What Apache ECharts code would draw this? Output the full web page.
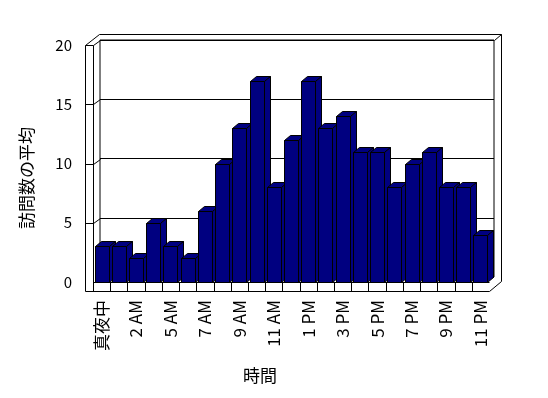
<!DOCTYPE html>
<html>
<head>
<meta charset="utf-8">
<script src="https://cdn.jsdelivr.net/npm/echarts@6/dist/echarts.min.js"></script>
<style>
html, body { margin: 0; padding: 0; background: #fff; }
#chart { width: 548px; height: 398px; }
</style>
</head>
<body>
<div id="chart"></div>
<script>
// hour of day (4 AM has no entry in the source)
var hours = ['真夜中', '1 AM', '2 AM', '3 AM', '5 AM', '6 AM', '7 AM', '8 AM', '9 AM', '10 AM', '11 AM', '正午',
    '1 PM', '2 PM', '3 PM', '4 PM', '5 PM', '6 PM', '7 PM', '8 PM', '9 PM', '10 PM', '11 PM'];
var visits = [3, 3, 2, 5, 3, 2, 6, 10, 13, 17, 8, 12, 17, 13, 14, 11, 11, 8, 10, 11, 8, 8, 4];
var gridTicks = [5, 10, 15, 20];

var font = 'Noto Sans CJK JP';
var navy = '#000080';
var line = {fill: 'none', stroke: '#000', lineWidth: 1};

function px(v) {
    return Math.round(v) + 0.5;
}

// walls, floor slab and the ticks on the side wall
function renderFrame(params, api) {
    var c = params.coordSys;
    var x0 = px(c.x), x1 = px(c.x + c.width);
    var yT = px(c.y), yB = px(c.y + c.height);
    var T = 8, F = 9, DX = 7, DY = -5;
    var cw = api.size([1, 0])[0];
    var kids = [];
    kids.push({type: 'polygon', shape: {points: [
        [x0 - T, yT], [x0 - T + 14, yT - 11], [x1 + 12, yT - 11], [x1 + 12, yB - 1], [x1, yB + F], [x0 - T, yB + F]
    ]}, style: line});
    kids.push({type: 'polyline', shape: {points: [[x0 - T, yT], [x0, yT], [x0 + DX, yT + DY]]}, style: line});
    kids.push({type: 'line', shape: {x1: x0, y1: yT, x2: x0, y2: yB + F}, style: line});
    kids.push({type: 'line', shape: {x1: x1 + 5, y1: yT - 5, x2: x1 + 12, y2: yT - 11}, style: line});
    kids.push({type: 'line', shape: {x1: x0, y1: yB, x2: x1, y2: yB}, style: line});
    for (var k = 1; k < hours.length; ++k) {
        var xx = px(c.x + k * cw);
        kids.push({type: 'line', shape: {x1: xx, y1: yB, x2: xx, y2: yB + F}, style: line});
    }
    for (var i = 0; i < gridTicks.length - 1; ++i) {
        var y = px(api.coord([0, gridTicks[i]])[1]);
        kids.push({type: 'polyline', shape: {points: [[x0 - T, y], [x0, y], [x0 + DX, y + DY]]}, style: line});
    }
    return {type: 'group', children: kids};
}

function renderBar(params, api) {
    var top = api.coord([api.value(0), api.value(1)]);
    var base = api.coord([api.value(0), 0]);
    var w = 14, dx = 6, dy = -5;
    var xl = px(top[0] - w / 2), xr = xl + w;
    var yt = px(top[1]), yb = px(base[1]);
    var st = {fill: navy, stroke: '#000', lineWidth: 1};
    return {type: 'group', children: [
        {type: 'polygon', shape: {points: [[xl, yt], [xr, yt], [xr, yb], [xl, yb]]}, style: st},
        {type: 'polygon', shape: {points: [[xl, yt], [xl + dx, yt + dy], [xr + dx, yt + dy], [xr, yt]]}, style: st},
        {type: 'polygon', shape: {points: [[xr, yt], [xr + dx, yt + dy], [xr + dx, yb + dy], [xr, yb]]}, style: st}
    ]};
}

var chart = echarts.init(document.getElementById('chart'));
chart.setOption({
    animation: false,
    backgroundColor: '#fff',
    grid: [
        {left: 93, right: 59, top: 45, bottom: 116},
        {left: 100, right: 54, top: 40, bottom: 121, show: true, borderColor: '#000', borderWidth: 1, backgroundColor: 'transparent'}
    ],
    xAxis: [{
        gridIndex: 0,
        type: 'category',
        data: hours,
        axisLine: {show: false},
        axisTick: {show: false},
        axisLabel: {interval: 1, rotate: 90, margin: 18, color: '#000', fontSize: 17, fontFamily: font},
        name: '時間',
        nameLocation: 'middle',
        nameGap: 85,
        nameTextStyle: {color: '#000', fontSize: 17, fontFamily: font, padding: [0, 62, 0, 0]}
    }, {
        gridIndex: 1,
        type: 'category',
        data: hours,
        show: false
    }],
    yAxis: [{
        gridIndex: 0,
        type: 'value',
        min: 0,
        max: 20,
        interval: 5,
        axisLine: {show: false},
        axisTick: {show: false},
        splitLine: {show: false},
        axisLabel: {margin: 21, color: '#000', fontSize: 15, fontFamily: font},
        name: '訪問数の平均',
        nameLocation: 'middle',
        nameRotate: 90,
        nameGap: 58,
        nameTextStyle: {color: '#000', fontSize: 17, fontFamily: font, padding: [0, 29, 0, 0]}
    }, {
        gridIndex: 1,
        type: 'value',
        min: 0,
        max: 20,
        interval: 5,
        axisLine: {show: false},
        axisTick: {show: false},
        axisLabel: {show: false},
        splitLine: {lineStyle: {color: '#000', width: 1}}
    }],
    series: [{
        type: 'custom',
        xAxisIndex: 0,
        yAxisIndex: 0,
        renderItem: renderFrame,
        data: [[0, 0]],
        silent: true
    }, {
        type: 'custom',
        xAxisIndex: 0,
        yAxisIndex: 0,
        renderItem: renderBar,
        encode: {x: 0, y: 1},
        data: visits.map(function(v, i) { return [i, v]; })
    }]
});
</script>
</body>
</html>
